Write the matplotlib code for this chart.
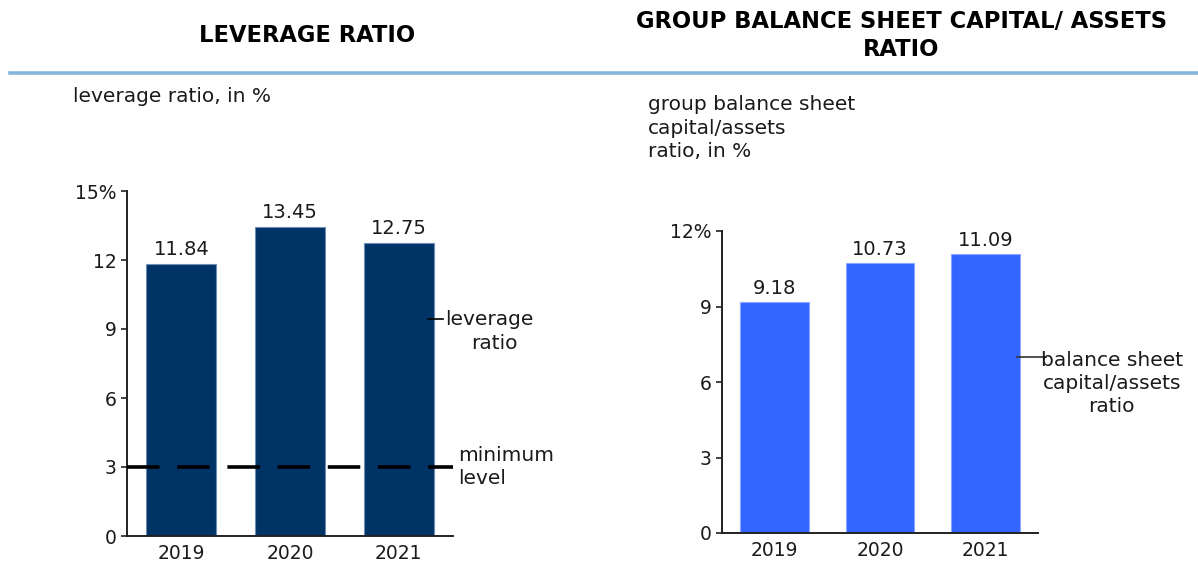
import matplotlib
matplotlib.use("Agg")
import matplotlib.pyplot as plt
from matplotlib.lines import Line2D

# ---- data ----
years = ["2019", "2020", "2021"]
leverage = [11.84, 13.45, 12.75]
leverage_min = 3
leverage_ticks = [0, 3, 6, 9, 12, 15]
leverage_ticklabels = ["0", "3", "6", "9", "12", "15%"]

capital_assets = [9.18, 10.73, 11.09]
capital_ticks = [0, 3, 6, 9, 12]
capital_ticklabels = ["0", "3", "6", "9", "12%"]

W, H = 1198, 578
DPI = 100
TEXT = "#1a1a1a"
plt.rcParams["font.family"] = ["DejaVu Sans"]

fig = plt.figure(figsize=(W / DPI, H / DPI), dpi=DPI)
fig.patch.set_facecolor("white")


def fx(px):
    return px / W


def fy(py):
    return 1 - py / H


def style_axes(ax, ticks, ticklabels, top):
    ax.set_ylim(0, top)
    ax.set_xlim(-0.5, len(years) - 0.5)
    for s in ("top", "right"):
        ax.spines[s].set_visible(False)
    for s in ("left", "bottom"):
        ax.spines[s].set_linewidth(1.4)
        ax.spines[s].set_color("#222222")
    ax.set_yticks(ticks)
    ax.set_yticklabels(ticklabels)
    ax.set_xticks(range(len(years)))
    ax.set_xticklabels(years)
    ax.tick_params(axis="y", length=4.5, width=1.2, pad=3, labelsize=13.5,
                   colors="#222222", labelcolor=TEXT)
    ax.tick_params(axis="x", length=0, pad=6, labelsize=13.5, labelcolor=TEXT)
    ax.set_facecolor("white")


# ---- header rule and titles ----
fig.add_artist(Line2D([fx(10), fx(1198)], [fy(73), fy(73)], color="#86b6dc",
                      lw=2.6, transform=fig.transFigure))
fig.text(fx(307), fy(36), "LEVERAGE RATIO", ha="center", va="center",
         fontsize=16.3, fontweight="bold", color="black")
fig.text(fx(901), fy(22), "GROUP BALANCE SHEET CAPITAL/ ASSETS", ha="center",
         va="center", fontsize=16.3, fontweight="bold", color="black")
fig.text(fx(901), fy(50), "RATIO", ha="center", va="center",
         fontsize=16.3, fontweight="bold", color="black")

fig.text(fx(73), fy(97), "leverage ratio, in %", ha="left", va="center",
         fontsize=14.5, color=TEXT)
fig.text(fx(648), fy(128), "group balance sheet\ncapital/assets\nratio, in %",
         ha="left", va="center", fontsize=14.5, color=TEXT, linespacing=1.3)

# ---- left panel: leverage ratio ----
ax1 = fig.add_axes([fx(127), fy(536), fx(453) - fx(127), fy(191) - fy(536)])
x = range(len(years))
bars1 = ax1.bar(x, leverage, width=0.645, color="#003366",
                edgecolor="#6d8fb5", linewidth=0.8, zorder=2)
style_axes(ax1, leverage_ticks, leverage_ticklabels, 15)
for xi, v in zip(x, leverage):
    ax1.annotate(f"{v:.2f}", (xi, v), xytext=(0, 6), textcoords="offset points",
                 ha="center", va="baseline", fontsize=14, color=TEXT)

ax1.plot([-0.5, 2.5], [leverage_min, leverage_min], color="black", lw=2.6,
         dashes=(9, 4.9), solid_capstyle="butt", dash_capstyle="butt",
         zorder=3, clip_on=False)

# annotation labels
ax1.plot([2.27, 2.41], [9.43, 9.43], color="black", lw=1.2, clip_on=False, zorder=3)
ax1.text(2.83, 9.43, "leverage", ha="center", va="center", fontsize=14.5,
         color=TEXT, clip_on=False)
ax1.text(2.88, 8.39, "ratio", ha="center", va="center", fontsize=14.5,
         color=TEXT, clip_on=False)
ax1.text(2.55, 3.0, "minimum\nlevel", ha="left", va="center", fontsize=14.5,
         color=TEXT, linespacing=1.3, clip_on=False)

# ---- right panel: capital / assets ratio ----
ax2 = fig.add_axes([fx(722), fy(533), fx(1038) - fx(722), fy(231) - fy(533)])
bars2 = ax2.bar(x, capital_assets, width=0.65, color="#3366ff",
                edgecolor="#8aa6ff", linewidth=0.8, zorder=2)
style_axes(ax2, capital_ticks, capital_ticklabels, 12)
for xi, v in zip(x, capital_assets):
    ax2.annotate(f"{v:.2f}", (xi, v), xytext=(0, 6), textcoords="offset points",
                 ha="center", va="baseline", fontsize=14, color=TEXT)

ax2.plot([2.3, 2.58], [6.99, 6.99], color="#333333", lw=1.2, clip_on=False, zorder=3)
ax2.text(3.2, 5.95, "balance sheet\ncapital/assets\nratio", ha="center",
         va="center", fontsize=14.5, color=TEXT, linespacing=1.25, clip_on=False)

fig.savefig("out.png", dpi=DPI, facecolor="white")
